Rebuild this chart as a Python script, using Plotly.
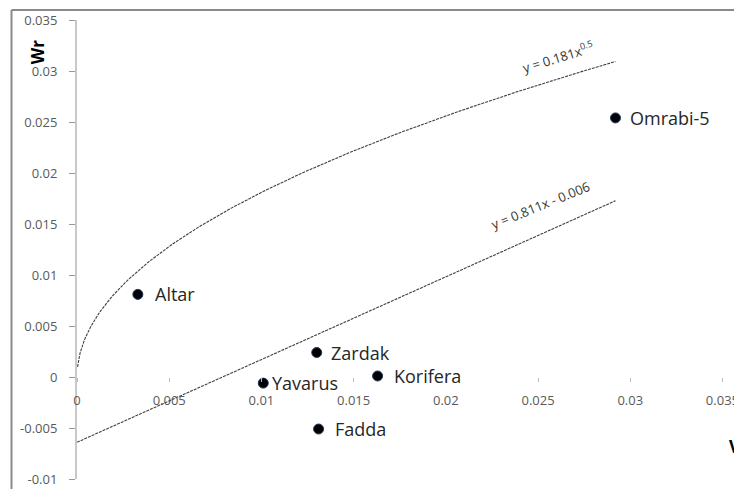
import numpy as np
import plotly.graph_objects as go

# Data
cultivars = ["Altar", "Omrabi-5", "Zardak", "Yavarus", "Korifera", "Fadda"]
vr = [0.0033, 0.0292, 0.0130, 0.0101, 0.0163, 0.0131]
wr = [0.0081, 0.0254, 0.0024, -0.0006, 0.0001, -0.0051]

# Trendline coefficients (as shown in the chart)
pow_coef, pow_exp = 0.181, 0.5
lin_slope, lin_intercept = 0.811, -0.0064
trend_xmax = 0.0292

x_ticks = [0, 0.005, 0.01, 0.015, 0.02, 0.025, 0.03, 0.035]
x_ticklabels = ["0", "0.005", "0.01", "0.015", "0.02", "0.025", "0.03", "0.035"]
y_ticks = [-0.01, -0.005, 0, 0.005, 0.01, 0.015, 0.02, 0.025, 0.03, 0.035]
y_ticklabels = ["-0.01", "-0.005", "0", "0.005", "0.01", "0.015", "0.02", "0.025", "0.03", "0.035"]

label_shift = [17, 15, 14, 9, 16, 16]

fig = go.Figure()

xc = np.concatenate([np.linspace(0.00003, 0.001, 60), np.linspace(0.001, trend_xmax, 200)])
fig.add_trace(go.Scatter(x=xc, y=pow_coef * xc ** pow_exp, mode="lines",
                         line=dict(color="#404040", width=1.1, dash="3px,1px"),
                         hoverinfo="skip", showlegend=False))
xl = np.array([0, trend_xmax])
fig.add_trace(go.Scatter(x=xl, y=lin_slope * xl + lin_intercept, mode="lines",
                         line=dict(color="#404040", width=1.1, dash="3px,1px"),
                         hoverinfo="skip", showlegend=False))

fig.add_trace(go.Scatter(x=vr, y=wr, mode="markers",
                         marker=dict(color="black", size=10, line=dict(color="#1F3864", width=1)),
                         showlegend=False))

for name, x, y, s in zip(cultivars, vr, wr, label_shift):
    fig.add_annotation(x=x, y=y, text=name, showarrow=False, xanchor="left", yanchor="middle",
                       xshift=s - 2, font=dict(family="Open Sans", size=18, color="#262626"))

fig.add_annotation(x=0.02608, y=0.03088, text="y = 0.181x<sup>0.5</sup>", showarrow=False,
                   textangle=-17, xanchor="center", yanchor="middle", yshift=6,
                   font=dict(family="Open Sans", size=13, color="#333333"))
fig.add_annotation(x=0.02516, y=0.0166, text="y = 0.811x - 0.006", showarrow=False,
                   textangle=-22, xanchor="center", yanchor="middle", yshift=3,
                   font=dict(family="Open Sans", size=13, color="#333333"))

fig.add_annotation(xref="paper", yref="paper", x=-0.060, y=0.93, text="<b>Wr</b>",
                   textangle=-90, showarrow=False, xanchor="center", yanchor="middle",
                   font=dict(family="Open Sans", size=17, color="black"))
fig.add_annotation(xref="paper", yref="paper", x=0.977, y=0.07, text="<b>Vr</b>",
                   xanchor="left", yanchor="middle", showarrow=False,
                   font=dict(family="Open Sans", size=17, color="black"))

# Chart border
fig.add_shape(type="line", xref="paper", yref="paper", x0=-0.0985, x1=-0.0985, y0=-0.1, y1=1.022,
              line=dict(color="#8a8a8a", width=2))
fig.add_shape(type="line", xref="paper", yref="paper", x0=-0.0985, x1=1.1, y0=1.022, y1=1.022,
              line=dict(color="#8a8a8a", width=2))

fig.update_layout(
    width=734, height=481,
    margin=dict(l=69, r=0, t=12, b=10),
    paper_bgcolor="white", plot_bgcolor="white",
    font=dict(family="Open Sans"),
    xaxis=dict(range=[0, 0.03606], tickvals=x_ticks, ticktext=x_ticklabels,
               showgrid=False, zeroline=False, showline=False,
               anchor="free", position=(0 - (-0.01)) / 0.045,
               ticks="outside", ticklen=4, tickcolor="#bbbbbb", ticklabelstandoff=7,
               tickfont=dict(family="Open Sans", size=13, color="#595959")),
    yaxis=dict(range=[-0.01, 0.035], tickvals=y_ticks, ticktext=y_ticklabels,
               showgrid=False, zeroline=False, showline=True, linecolor="#c8c8c8", linewidth=2,
               ticks="outside", ticklen=6, tickcolor="#999999", ticklabelstandoff=9,
               tickfont=dict(family="Open Sans", size=13, color="#595959")),
)

fig.write_html("out.html")
